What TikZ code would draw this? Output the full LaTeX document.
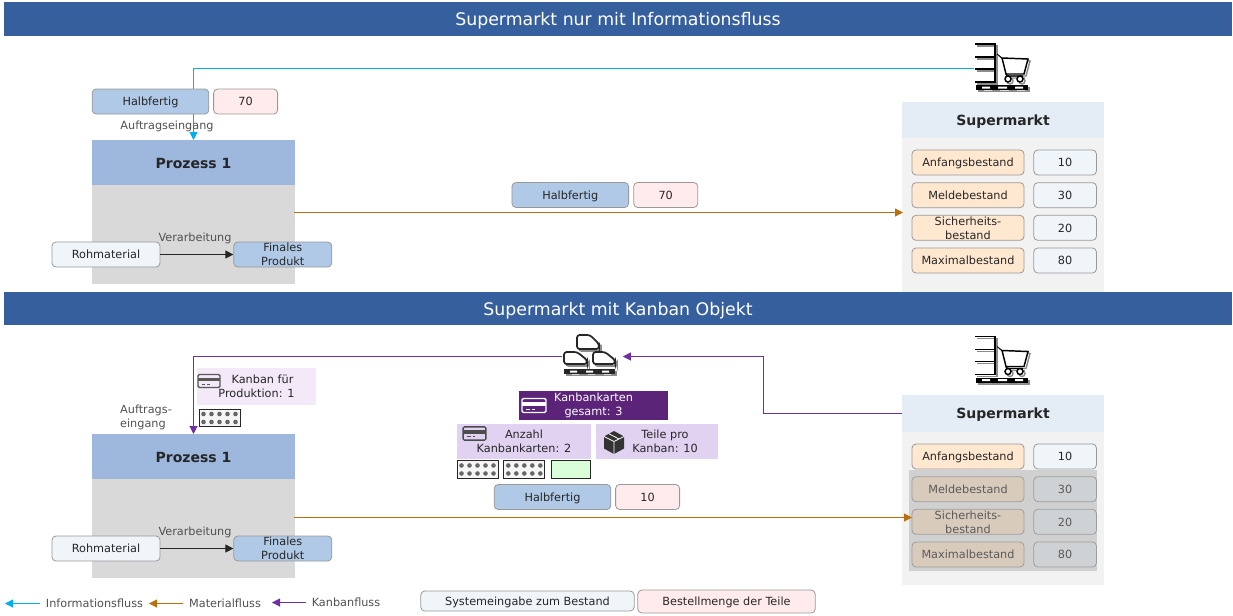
\documentclass[tikz,border=0pt]{standalone}
\usepackage{fontspec}
\setmainfont{DejaVu Sans}
\usepackage{tikz}
\usetikzlibrary{arrows.meta,positioning}

\definecolor{bannerblau}{HTML}{365F9E}
\definecolor{kopfblau}{HTML}{9DB7DD}
\definecolor{feldblau}{HTML}{AFC9E7}
\definecolor{feldhell}{HTML}{F0F5FA}
\definecolor{feldrosa}{HTML}{FFEBEC}
\definecolor{feldpeach}{HTML}{FFE8CF}
\definecolor{smkopf}{HTML}{E4ECF6}
\definecolor{infocyan}{HTML}{00B0F0}
\definecolor{materialbraun}{HTML}{B8700F}
\definecolor{kanbanlila}{HTML}{7030A0}
\definecolor{kartendunkel}{HTML}{5B2479}
\definecolor{kartenlila}{HTML}{E2D2F1}
\definecolor{kartenhell}{HTML}{F3E9F8}
\definecolor{textdunkel}{HTML}{262626}
\definecolor{textgrau}{HTML}{505050}

\tikzset{
  klein/.style={font=\fontsize{8.45pt}{10.5pt}\selectfont,text=textdunkel},
  einzeilig/.style={text height=6.3pt,text depth=0pt},
  zweizeilig/.style={execute at begin node={\rule{0pt}{#1}}},
  zweizeilig/.default=8pt,
  banner/.style={fill=bannerblau,text=white,minimum width=921pt,minimum height=25.25pt,inner sep=0pt,text height=11pt,text depth=1pt,font=\fontsize{13pt}{15pt}\selectfont},
  prozkopf/.style={fill=kopfblau,text=textdunkel,minimum width=152.25pt,minimum height=33.75pt,inner sep=0pt,outer sep=0pt,text height=9.8pt,text depth=1pt,font=\fontsize{10.5pt}{12pt}\selectfont\bfseries},
  prozrumpf/.style={fill=black!15,minimum width=152.25pt,minimum height=74.25pt,inner sep=0pt,outer sep=0pt},
  smoben/.style={fill=smkopf,text=textdunkel,minimum width=151.5pt,minimum height=27.5pt,inner sep=0pt,outer sep=0pt,text height=9pt,text depth=1pt,font=\fontsize{10.5pt}{12pt}\selectfont\bfseries},
  smrumpf/.style={fill=black!5,minimum width=151.5pt,minimum height=115pt,inner sep=0pt,outer sep=0pt},
  feld/.style={klein,draw=black!40,line width=.6pt,rounded corners=3pt,minimum height=18.75pt,inner sep=0pt,align=center},
  halb/.style={feld,einzeilig,fill=feldblau,minimum width=87.5pt},
  menge/.style={feld,einzeilig,fill=feldrosa,minimum width=48pt},
  roh/.style={feld,einzeilig,fill=feldhell,minimum width=81pt},
  fertig/.style={feld,fill=feldblau,minimum width=73.5pt},
  bestand/.style={feld,einzeilig,fill=feldpeach,minimum width=84pt},
  sicher/.style={feld,zweizeilig,fill=feldpeach,minimum width=84pt},
  wert/.style={feld,einzeilig,fill=feldhell,minimum width=47pt},
  karte/.style={klein,zweizeilig,inner sep=0pt,align=center,minimum height=26.25pt},
  notiz/.style={klein,text=textgrau,inner sep=0pt,align=left},
  lager/.style={draw=black!85,fill=black!4,line width=.6pt,minimum width=30.75pt,minimum height=13pt,inner sep=0pt},
  bildfeld/.style={minimum width=45pt,minimum height=30pt,inner sep=0pt},
  schleier/.style={fill=black!36,fill opacity=.42,minimum width=141pt,minimum height=76pt,inner sep=0pt},
  info/.style={->,draw=infocyan,line width=.75pt},
  material/.style={->,draw=materialbraun,line width=.75pt},
  kanban/.style={->,draw=kanbanlila,line width=.75pt},
  ablauf/.style={->,draw=textdunkel,line width=.75pt},
  wagen/.pic={
    \begin{scope}[black!45,shift={(2,2)}]\wagenlinien\end{scope}
    \begin{scope}[black]\wagenlinien\end{scope}
  },
  stapel/.pic={
    \begin{scope}[black!45,shift={(2,2)}]\stapellinien\end{scope}
    \begin{scope}[black!85]\stapellinien\end{scope}
  },
  kartenbild/.pic={
    \draw[line width=1pt,rounded corners=1pt] (-12,-7) rectangle (12,7);
    \fill (-12,-3.5) rectangle (12,0);
    \draw[line width=.6pt] (-8,3.5) -- (-4,3.5) (-2,3.5) -- (1,3.5);
  },
  kiste/.pic={
    \fill[black!80] (0,-11.5) -- (10,-6) -- (10,6) -- (0,11.5) -- (-10,6) -- (-10,-6) -- cycle;
    \draw[white,line width=.6pt] (-10,-6) -- (0,-1) -- (10,-6) (0,-1) -- (0,11.5) (-5,-8.7) -- (5,-3.5);
  },
  punkte/.pic={
    \foreach \i in {-16,-8,0,8,16}
      \foreach \j in {-4,4}
        \fill[black!60] (\i,\j) circle (2.3);
  }
}

% Regal mit Wagen, Ursprung links oben
\newcommand{\wagenlinien}{
  \draw[line width=1.2pt] (0,1) -- (20,1) -- (20,39) -- (0,39) (0,14) -- (20,14) (0,26) -- (20,26);
  \draw[line width=.7pt] (22,11) -- (27,15);
  \draw[line width=1.1pt,fill=white] (27,15) -- (53,16) -- (49,31) -- (31,31) -- cycle;
  \draw[line width=1.1pt] (31,31) -- (32,33) -- (48,33);
  \draw[line width=1.1pt,fill=white] (33,36) circle (3) (45,36) circle (3);
  \fill (1,42) rectangle (53,47);
  \fill[white] (7,43.5) rectangle (15,45.5) (23,43.5) rectangle (32,45.5) (40,43.5) rectangle (48,45.5);
}

% Kanban Bloecke auf Palette, Ursprung links oben
\newcommand{\stapellinien}{
  \draw[line width=1.3pt,fill=white,rounded corners=2pt] (14,0) -- (27,0) -- (36,9) -- (36,14) -- (14,14) -- cycle;
  \draw[line width=1.3pt,fill=white,rounded corners=2pt] (1,17) -- (14,17) -- (24,25) -- (24,29) -- (1,29) -- cycle;
  \draw[line width=1.3pt,fill=white,rounded corners=2pt] (30,17) -- (42,17) -- (52,25) -- (52,29) -- (30,29) -- cycle;
  \fill (1,34) rectangle (52,39);
  \fill[white] (7,35.5) rectangle (14,37.5) (23,35.5) rectangle (30,37.5) (39,35.5) rectangle (46,37.5);
}

\begin{document}
\begin{tikzpicture}[x=.75pt,y=-.75pt,>={Triangle[width=6pt,length=6pt]}]
\useasboundingbox (0,0) rectangle (1233,615);

% oberer Teil
\node[banner]      (bannerA) at (618,19)     {Supermarkt nur mit Informationsfluss};
\node[prozkopf]    (kopfA)   at (193.5,162.5)  {Prozess 1};
\node[prozrumpf,below=0pt of kopfA] (rumpfA) {};
\pic at (975,43) {wagen};
\coordinate (wagenA) at (974,68.5);
\draw[info] (wagenA) -| (kopfA.north);

\node[halb]        (halbA)   at (150.5,101.5) {Halbfertig};
\node[menge,right=3pt of halbA] (mengeA)      {70};
\node[notiz]       (auftragA) at (167,126)   {Auftragseingang};

\node[roh]         (rohA)    at (106,254.5)  {Rohmaterial};
\node[fertig,right=54.75pt of rohA] (finA)   {Finales\\Produkt};
\node[notiz]       (verarbA) at (195,238)    {Verarbeitung};
\draw[ablauf] (rohA) -- (finA);

\node[smoben]      (smkopfA) at (1003,120)   {Supermarkt};
\node[smrumpf,below=0pt of smkopfA] (smrumpfA) {};
\node[bestand]     (ankA)    at (968,162.5)  {Anfangsbestand};
\node[bestand,below=5.15pt of ankA] (melA)   {Meldebestand};
\node[sicher,below=5.15pt of melA]  (sicA)   {Sicherheits-\\bestand};
\node[bestand,below=5.15pt of sicA] (maxA)   {Maximalbestand};
\node[wert,right=6.75pt of ankA]    (wankA)  {10};
\node[wert,right=6.75pt of melA]    (wmelA)  {30};
\node[wert,right=6.75pt of sicA]    (wsicA)  {20};
\node[wert,right=6.75pt of maxA]    (wmaxA)  {80};

\node[halb]        (halbM)   at (570.3,195)  {Halbfertig};
\node[menge,right=3.2pt of halbM] (mengeM)   {70};
\coordinate (ausA) at (294,212.5);
\coordinate (einA) at (903,212.5);
\draw[material] (ausA) -- (einA);

% unterer Teil
\node[banner]      (bannerB) at (618,308.5)  {Supermarkt mit Kanban Objekt};
\node[prozkopf]    (kopfB)   at (193.5,456.5)  {Prozess 1};
\node[prozrumpf,below=0pt of kopfB] (rumpfB) {};
\node[smoben]      (smkopfB) at (1003,413.5) {Supermarkt};
\node[smrumpf,below=0pt of smkopfB] (smrumpfB) {};

\pic at (975,335.5) {wagen};
\node[bildfeld]    (stapelB) at (592.5,356.5) {};
\pic at (563,335) {stapel};
\coordinate (knick) at (763.5,356.5);
\draw[kanban] (smkopfB.west) -| (knick) -- (stapelB.east);
\draw[kanban] (stapelB.west) -| (kopfB.north);

\node[karte,fill=kartenhell,minimum width=89.25pt,minimum height=27.75pt] (karteP) at (256.5,386.5) {\hspace*{9pt}Kanban für\\Produktion: 1};
\pic[black!65,scale=.92] at (209,381) {kartenbild};
\node[notiz,zweizeilig=8.5pt] (auftragB) at (146,417) {Auftrags-\\eingang};
\node[lager]       (lagerP)  at (219.5,418)  {};
\pic at (lagerP) {punkte};

\node[karte,zweizeilig=9.5pt,fill=kartendunkel,text=white,minimum width=111.75pt,minimum height=21.75pt] (karteG) at (593.5,405.5) {Kanbankarten\\gesamt: 3};
\pic[white] at (534,405.5) {kartenbild};
\node[karte,fill=kartenlila,minimum width=100.5pt] (karteZ) at (524,441.5) {Anzahl\\Kanbankarten: 2};
\pic[black!70,scale=.95] at (474.5,433.5) {kartenbild};
\node[karte,fill=kartenlila,minimum width=91.5pt]  (karteT) at (657,441.5) {\hspace*{12pt}Teile pro\\\hspace*{12pt}Kanban: 10};
\pic at (614,442.5) {kiste};

\node[lager]       (lagerA)  at (477.5,469.5) {};
\pic at (lagerA) {punkte};
\node[lager,right=3.75pt of lagerA] (lagerB) {};
\pic at (lagerB) {punkte};
\node[lager,fill=green!15!white,minimum width=29.5pt,right=4pt of lagerB] (lagerC) {};

\node[halb]        (halbB)   at (552.5,497)  {Halbfertig};
\node[menge,right=3pt of halbB] (mengeB)     {10};

\node[roh]         (rohB)    at (106,548.5)  {Rohmaterial};
\node[fertig,right=54.75pt of rohB] (finB)   {Finales\\Produkt};
\node[notiz]       (verarbB) at (195,532)    {Verarbeitung};
\draw[ablauf] (rohB) -- (finB);

\node[bestand]     (ankB)    at (968,456.5)  {Anfangsbestand};
\node[bestand,below=5.15pt of ankB] (melB)   {Meldebestand};
\node[sicher,below=5.15pt of melB]  (sicB)   {Sicherheits-\\bestand};
\node[bestand,below=5.15pt of sicB] (maxB)   {Maximalbestand};
\node[wert,right=6.75pt of ankB]    (wankB)  {10};
\node[wert,right=6.75pt of melB]    (wmelB)  {30};
\node[wert,right=6.75pt of sicB]    (wsicB)  {20};
\node[wert,right=6.75pt of maxB]    (wmaxB)  {80};
\node[schleier]    (grauB)   at (1002.5,520.5) {};

\coordinate (ausB) at (294,517.5);
\coordinate (einB) at (912,517.5);
\draw[material] (ausB) -- (einB);

% Legende
\node[notiz,einzeilig]   (txtinfo) at (94.5,603.5) {Informationsfluss};
\coordinate (ziinfo) at (5,603.5);
\draw[info] (txtinfo.west) ++(-6,0) -- (ziinfo);
\node[notiz,einzeilig]   (txtmat)  at (225,603.5)  {Materialfluss};
\coordinate (zimat) at (149,603.5);
\draw[material] (txtmat.west) ++(-6,0) -- (zimat);
\node[notiz,einzeilig]   (txtkan)  at (346,602.5)  {Kanbanfluss};
\coordinate (zikan) at (272,602.5);
\draw[kanban] (txtkan.west) ++(-6,0) -- (zikan);
\node[feld,einzeilig,fill=feldhell,minimum width=160pt,minimum height=15pt] (legsys) at (527.5,601) {Systemeingabe zum Bestand};
\node[feld,einzeilig,fill=feldrosa,minimum width=133pt,minimum height=17.25pt] (legbest) at (726.5,601.5) {Bestellmenge der Teile};
\end{tikzpicture}
\end{document}
